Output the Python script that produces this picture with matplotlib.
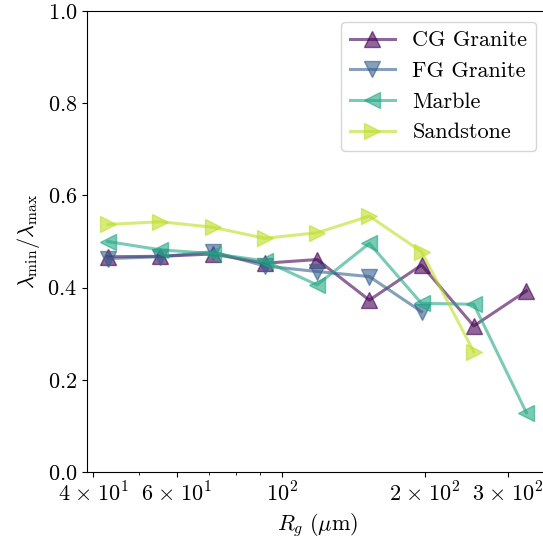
import numpy as np
import matplotlib
matplotlib.use("Agg")
import matplotlib.pyplot as plt
from matplotlib.ticker import FixedLocator, FuncFormatter, NullFormatter

plt.rcParams['font.family'] = 'serif'
plt.rcParams['font.serif'] = ['cmr10']
plt.rcParams['mathtext.fontset'] = 'cm'
plt.rcParams['axes.unicode_minus'] = False
plt.rcParams['axes.formatter.use_mathtext'] = True
plt.rcParams['font.size'] = 16

# radii of gyration (um), bin centres
rg = [42.9, 55.4, 71.4, 92.0, 118.6, 152.9, 197.0, 254.0, 328.0]

cg_granite = [0.467, 0.468, 0.473, 0.453, 0.461, 0.373, 0.449, 0.317, 0.393]
fg_granite = [0.463, 0.467, 0.478, 0.447, 0.435, 0.424, 0.348]
marble = [0.500, 0.482, 0.474, 0.458, 0.406, 0.496, 0.366, 0.364, 0.129]
sandstone = [0.537, 0.543, 0.531, 0.507, 0.519, 0.555, 0.478, 0.261]

names = ['CG Granite', 'FG Granite', 'Marble', 'Sandstone']
series = [cg_granite, fg_granite, marble, sandstone]
markers = ['^', 'v', '<', '>']
colors = plt.cm.viridis(np.linspace(0, 0.9, 4))

xticks = [40, 60, 100, 200, 300]
sp = r'\hspace{0.08}'
xtick_labels = {40: r'$4' + sp + r'\times' + sp + r'10^{1}$',
                60: r'$6' + sp + r'\times' + sp + r'10^{1}$',
                100: r'$10^{2}$',
                200: r'$2' + sp + r'\times' + sp + r'10^{2}$',
                300: r'$3' + sp + r'\times' + sp + r'10^{2}$'}

fig = plt.figure(figsize=(5.43, 5.44), dpi=100)
ax = fig.add_axes([0.160, 0.132, 0.848, 0.848])

for name, vals, m, c in zip(names, series, markers, colors):
    ax.plot(rg[:len(vals)], vals, marker=m, color=c, alpha=0.6,
            lw=2.2, ms=11, label=name)

ax.set_xscale('log')
ax.set_ylim(0, 1)
ax.xaxis.set_major_locator(FixedLocator(xticks))
ax.xaxis.set_major_formatter(FuncFormatter(lambda v, p: xtick_labels.get(int(round(v)), '')))
ax.xaxis.set_minor_locator(FixedLocator([50, 70, 80, 90]))
ax.xaxis.set_minor_formatter(NullFormatter())
ax.tick_params(axis='x', which='major', length=3.5)
ax.set_xlabel(r'$R_g\ (\mu\mathrm{m})$')
ax.set_ylabel(r'$\lambda_{\min}/\lambda_{\max}$')
ax.spines['right'].set_visible(False)
ax.legend(loc='upper right')

fig.savefig('out.png', dpi=100)
